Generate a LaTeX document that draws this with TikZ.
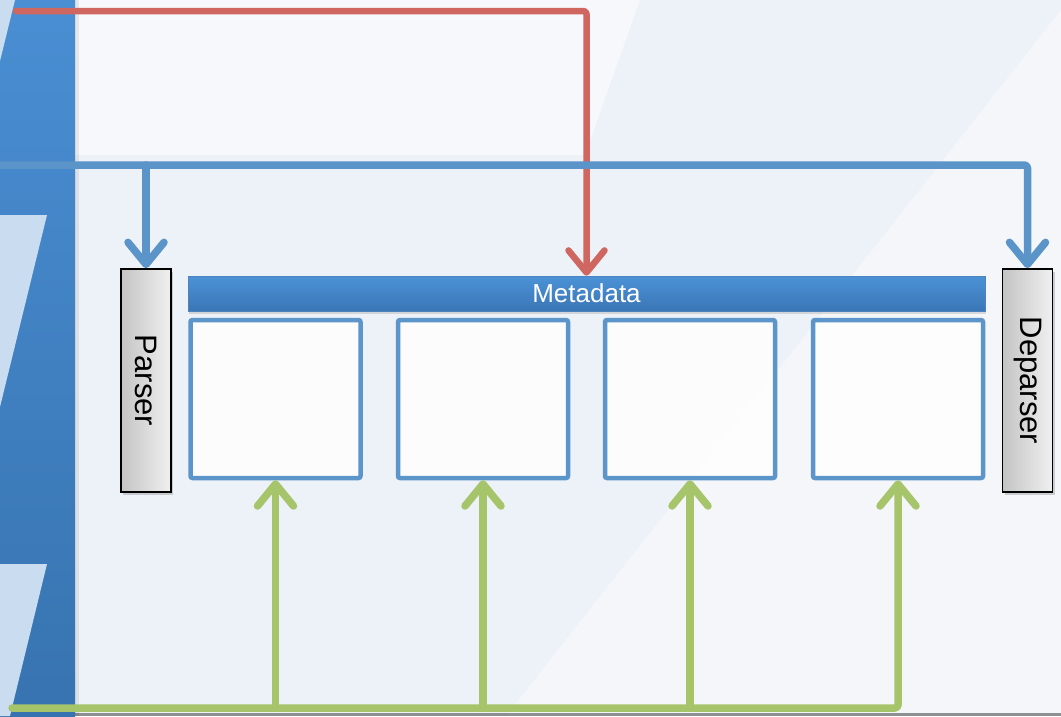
\documentclass[tikz,border=0pt]{standalone}
\usepackage{fontspec}
\setmainfont{Liberation Sans}
\usetikzlibrary{arrows.meta,shadows,calc}
\definecolor{bgbase}{HTML}{EDF1F8}
\definecolor{bandtop}{HTML}{4A8ED3}
\definecolor{bandbot}{HTML}{3773B0}
\definecolor{bandlight}{HTML}{CADDF0}
\definecolor{metatop}{HTML}{4C92D7}
\definecolor{metabot}{HTML}{3A76B6}
\definecolor{stageblue}{HTML}{5C95C9}
\definecolor{linered}{HTML}{CF6660}
\definecolor{lineblue}{HTML}{5B94C8}
\definecolor{linegreen}{HTML}{A6C46A}
\definecolor{sidedark}{HTML}{C4C4C4}
\definecolor{sidelight}{HTML}{F0F0F0}
\tikzset{
  sidebox/.style={draw=black, line width=1.8pt, left color=sidedark, right color=sidelight,
    minimum width=50pt, minimum height=223pt, inner sep=0pt,
    font=\fontsize{31}{36}\selectfont,
    drop shadow={opacity=.35, shadow xshift=2pt, shadow yshift=-3pt}},
  metabar/.style={top color=metatop, bottom color=metabot, draw=metabot!90!white, line width=.6pt,
    minimum width=797pt, minimum height=35pt, inner sep=0pt, text=white,
    font=\fontsize{26}{28}\selectfont,
    drop shadow={opacity=.25, shadow xshift=1pt, shadow yshift=-3pt}},
  stage/.style={draw=stageblue, line width=4.5pt, fill=white, fill opacity=.85, text opacity=1,
    rounded corners=2pt, minimum width=170pt, minimum height=158pt, inner sep=0pt},
  conn/.style={line width=7.5pt, line cap=round, line join=round, rounded corners=3pt},
  tipped/.style={conn, -{Straight Barb[length=22pt, width=36pt, round]}},
}
\begin{document}
\begin{tikzpicture}[x=1pt, y=-1pt]
\useasboundingbox (0,0) rectangle (1061,716);
% background
\fill[bgbase] (0,0) rectangle (1061,716);
\fill[white, opacity=.55] (75,0) -- (640,0) -- (585,155) -- (75,155) -- cycle;
\fill[white, opacity=.4] (1061,10) -- (1061,716) -- (506,716) -- cycle;
\fill[black!70, opacity=.6] (0,712.5) rectangle (1061,716);
% left band
\shade[top color=bandtop, bottom color=bandbot] (0,0) rectangle (75,716);
\fill[black, opacity=.07] (75,0) rectangle (79,716);
\fill[bandlight] (0,0) -- (15,0) -- (0,61) -- cycle;
\fill[bandlight] (0,215) -- (47,215) -- (0,407) -- cycle;
\fill[bandlight] (0,564) -- (47,564) -- (10,716) -- (0,716) -- cycle;

% nodes
\node[sidebox] (parser) at (146,380.5) {\rotatebox{-90}{Parser}};
\node[sidebox] (deparser) at (1027.5,380.5) {\rotatebox{-90}{Deparser}};
\node[metabar] (meta) at (586.5,293.5) {Metadata};
\node[stage] (s1) at (275.5,399) {};
\node[stage] (s2) at (483,399) {};
\node[stage] (s3) at (690,399) {};
\node[stage] (s4) at (898,399) {};

% connectors
\coordinate (rstart) at (16,11);
\coordinate (bstart) at (0,165);
\coordinate (gstart) at (12,708);

\draw[tipped, draw=linered, line width=6.5pt] (rstart) -| (meta.north);
\draw[tipped, draw=lineblue] (bstart) -| (deparser.north);
\draw[tipped, draw=lineblue] (parser.north |- bstart) -- (parser.north);
\draw[tipped, draw=linegreen] (gstart) -| (s4.south);
\draw[tipped, draw=linegreen] (s1.south |- gstart) -- (s1.south);
\draw[tipped, draw=linegreen] (s2.south |- gstart) -- (s2.south);
\draw[tipped, draw=linegreen] (s3.south |- gstart) -- (s3.south);
\end{tikzpicture}
\end{document}
